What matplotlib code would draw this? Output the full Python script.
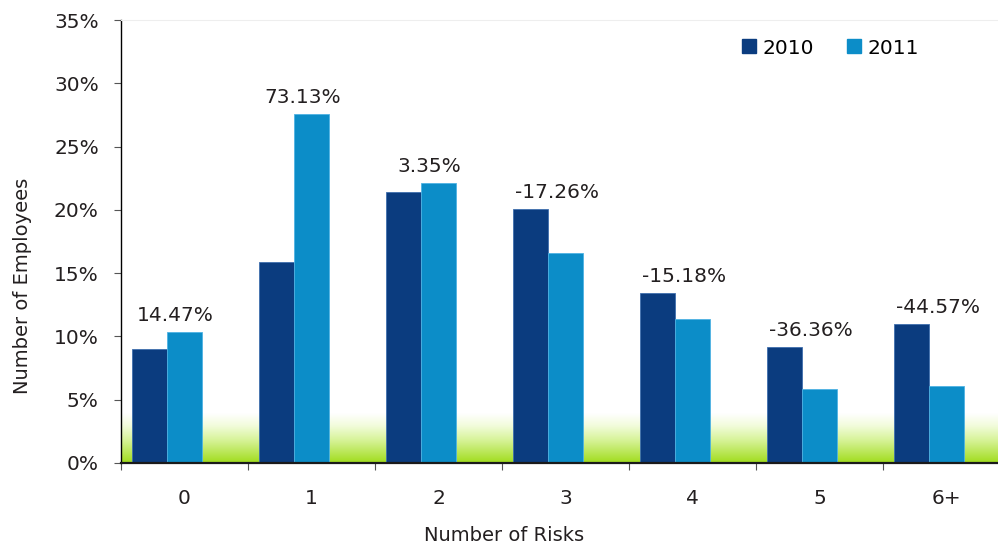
import numpy as np
import matplotlib
matplotlib.use("Agg")
from matplotlib import pyplot as plt
from matplotlib.colors import LinearSegmentedColormap
from matplotlib.lines import Line2D

# data
categories = ['0', '1', '2', '3', '4', '5', '6+']
values_2010 = [9.0, 15.9, 21.4, 20.1, 13.4, 9.2, 11.0]
values_2011 = [10.35, 27.6, 22.1, 16.6, 11.35, 5.85, 6.1]
pct_change = ['14.47%', '73.13%', '3.35%', '-17.26%', '-15.18%', '-36.36%', '-44.57%']
y_ticks = [0, 5, 10, 15, 20, 25, 30, 35]

dark_blue = '#0b3c7f'
light_blue = '#0c8dc8'
text_col = '#231f20'

plt.rcParams['font.family'] = ['DejaVu Sans']

fig = plt.figure(figsize=(9.98, 5.48), dpi=100)
ax = fig.add_axes([121/998, 1-463/548, 877/998, 443/548])

x = np.arange(len(categories))
w = 0.276
# bars sit left of the category centre (as in the original excel chart)
ax.bar(x - w, values_2010, w, color=dark_blue, edgecolor='#3f6fae', linewidth=0.6, zorder=3)
ax.bar(x, values_2011, w, color=light_blue, edgecolor='#4fb3e3', linewidth=0.6, zorder=3)

# green glow along the floor (white at top, lime at the axis)
cmap = LinearSegmentedColormap.from_list('glow', [(0, '#ffffff'), (0.25, '#f2fcdc'),
                                                  (0.55, '#d6f396'), (1, '#a0dc1c')])
grad = np.linspace(0, 1, 256).reshape(-1, 1)
ax.imshow(grad, aspect='auto', cmap=cmap, extent=[-0.5, 7, 0, 3.9], origin='upper', zorder=1)

# percent change labels
for i in range(len(categories)):
    top = max(values_2010[i], values_2011[i])
    ax.annotate(pct_change[i], (x[i] - 0.07, top), xytext=(0, 5), textcoords='offset points',
                ha='center', va='bottom', fontsize=14.5, color=text_col, zorder=4)

ax.set_xlim(-0.5, -0.5 + 877/127)
ax.set_ylim(0, 35)
ax.set_yticks(y_ticks)
ax.set_yticklabels([str(t) + '%' for t in y_ticks])
ax.set_xticks(x)
ax.set_xticklabels(categories)
ax.set_xticks(np.arange(-0.5, 6.0, 1), minor=True)
ax.tick_params(axis='x', which='major', length=0, pad=19, labelsize=14.5, labelcolor=text_col)
ax.tick_params(axis='x', which='minor', length=5, width=0.8, direction='out', color='#555555')
ax.tick_params(axis='y', length=5, width=0.8, pad=11, labelsize=14.5, labelcolor=text_col, color='#555555')

ax.spines['right'].set_visible(False)
ax.spines['top'].set_color('#eeeeee')
ax.spines['left'].set_linewidth(1.0)
ax.spines['bottom'].set_linewidth(1.6)
ax.spines['bottom'].set_color('#1a1a1a')
ax.spines['bottom'].set_zorder(5)

ax.set_xlabel('Number of Risks', fontsize=14, color=text_col)
ax.xaxis.set_label_coords(0.437, -0.142)
ax.set_ylabel('Number of Employees', fontsize=14, color=text_col)
ax.yaxis.set_label_coords(-0.101, 0.40)

handles = [Line2D([], [], marker='s', ls='none', ms=9.5, color=dark_blue),
           Line2D([], [], marker='s', ls='none', ms=9.5, color=light_blue)]
fig.legend(handles, ['2010', '2011'], loc='center left', bbox_to_anchor=(741/998, 1-48/548),
           ncol=2, frameon=False, fontsize=14.5, handlelength=0.8, handletextpad=0.25,
           columnspacing=1.6, borderpad=0, borderaxespad=0)

plt.savefig('out.png', dpi=100)
